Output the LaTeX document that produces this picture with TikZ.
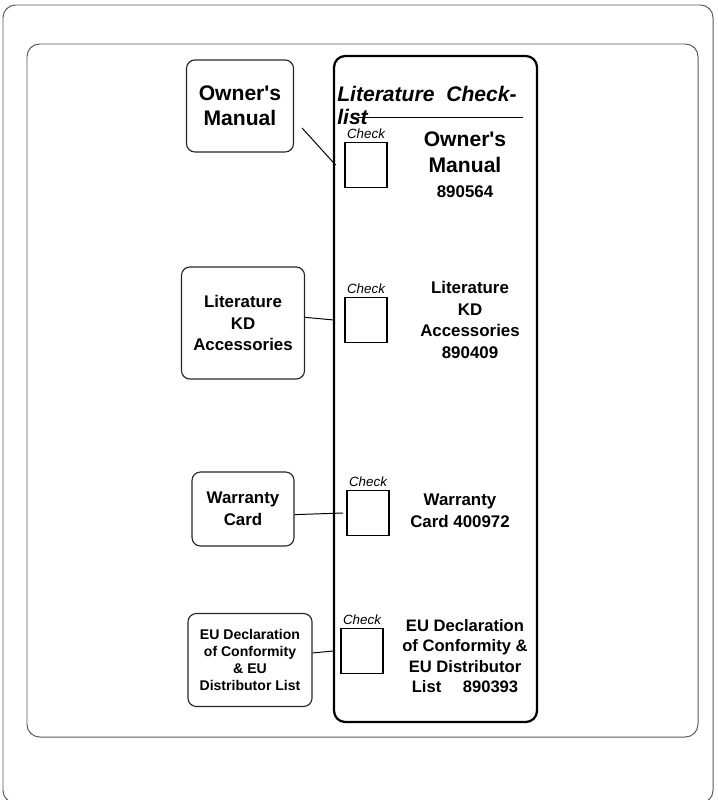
\documentclass[tikz,border=0pt]{standalone}
\usepackage{fontspec}
\setmainfont{Liberation Sans}
\usetikzlibrary{positioning, calc}
\newcommand{\apos}{\XeTeXglyph\XeTeXglyphindex"quotesingle"\relax}
\tikzset{
frame/.style = {draw = black!65, line width = 0.7pt, rounded corners = 9pt},
listbox/.style = {draw, line width = 1.6pt, rounded corners = 8pt},
callout/.style = {rectangle, draw = black!85, line width = 0.8pt, rounded corners = 6pt,
   inner sep = 0pt, align = center, font = \bfseries\fontsize{12}{15.5}\selectfont},
checkbox/.style = {rectangle, draw, line width = 1.4pt, minimum width = 1.05cm,
   minimum height = 1.125cm, inner sep = 0pt},
checklabel/.style = {inner sep = 0pt, font = \itshape\fontsize{9.5}{11}\selectfont},
item/.style = {inner sep = 0pt, align = center, font = \bfseries\fontsize{12}{15.5}\selectfont},
title/.style = {inner sep = 0pt, font = \bfseries\itshape\fontsize{15}{18}\selectfont},
leader/.style = {draw, line width = 0.7pt},
rule/.style = {draw, line width = 0.7pt}
}

\begin{document}
\begin{tikzpicture}[x = 0.025cm, y = -0.025cm]

\useasboundingbox (0,0) rectangle (717,800);

%% Frames
\draw [frame] (3,5) rectangle (713,803);
\draw [frame] (27,44) rectangle (698,737);
\draw [listbox] (334,56) rectangle (537,722);

%% Title
\node [title, anchor = base west] (title) at (337,102) {Literature\ \ Check-};
\node [title, anchor = base west] (title2) at (337,125) {list};
\draw [rule] (358,117) -- (523,117);

%% Check boxes
\foreach \i/\x/\y in {1/366/165, 2/366/320, 3/368/513, 4/362/651} {
   \node [checkbox] (chk\i) at (\x, \y) {};
   \node [checklabel] (lab\i) [above = 1.5pt of chk\i] {Check};
}

%% Items in the list
\node [item, font = \bfseries\fontsize{15}{18}\selectfont] (item1) at (465,165)
   {Owner\apos s\\Manual\\{\fontsize{12}{14}\selectfont 890564}};
\node [item] (item2) at (470,320) {Literature\\KD\\Accessories\\890409};
\node [item] (item3) at (460,511) {Warranty\\Card\ 400972};
\node [item, font = \bfseries\fontsize{11.8}{14.5}\selectfont] (item4) at (465,656)
   {EU Declaration\\of Conformity \&\\EU Distributor\\List\hspace{1.3em}890393};

%% Callouts
\node [callout, minimum width = 2.675cm, minimum height = 2.3cm,
   font = \bfseries\fontsize{15}{18}\selectfont] (own) at (240,106) {Owner\apos s\\Manual};
\node [callout, minimum width = 3.075cm, minimum height = 2.8cm] (lit) at (243,323)
   {Literature\\KD\\Accessories};
\node [callout, minimum width = 2.55cm, minimum height = 1.85cm] (war) at (243,509)
   {Warranty\\Card};
\node [callout, minimum width = 3.1cm, minimum height = 2.325cm,
   font = \bfseries\fontsize{10}{12.2}\selectfont] (eu) at (250,660)
   {EU Declaration\\of Conformity\\\& EU\\Distributor List};

%% Leaders
\draw [leader] ([shift = {(8,22)}]own.east) -- ([xshift = -6]chk1.west);
\draw [leader] ([yshift = 4]lit.east) -- ([xshift = -7]chk2.west);
\draw [leader] ([yshift = -4]war.east) -- ([xshift = -2]chk3.west);
\draw [leader] ([yshift = 5]eu.east) -- ([xshift = -5]chk4.west);

\end{tikzpicture}
\end{document}
